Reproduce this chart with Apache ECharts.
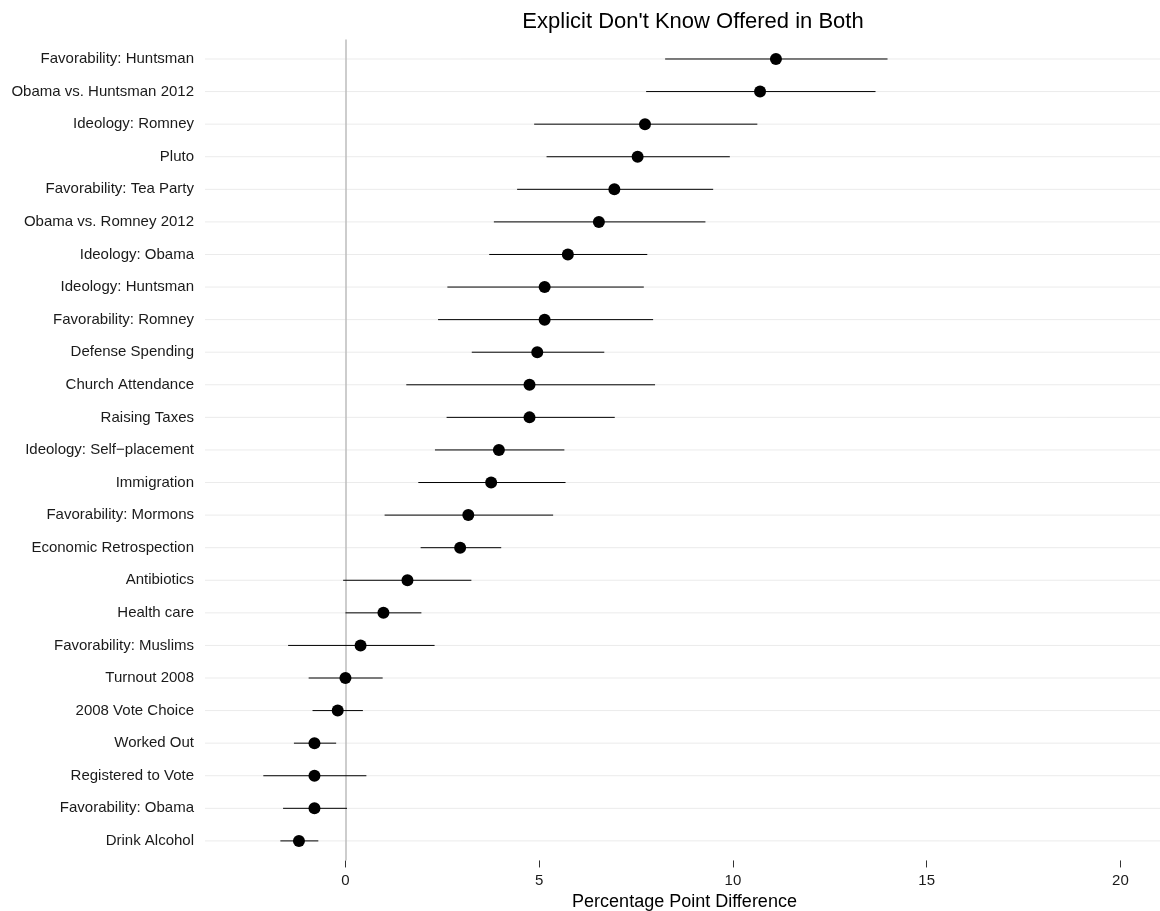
<!DOCTYPE html>
<html>
<head>
<meta charset="utf-8">
<script src="https://cdn.jsdelivr.net/npm/echarts@6/dist/echarts.min.js"></script>
<style>html,body{margin:0;padding:0;background:#fff}#c{width:1160px;height:911px}</style>
</head>
<body>
<div id="c"></div>
<script>
const categories = [
  "Favorability: Huntsman", "Obama vs. Huntsman 2012", "Ideology: Romney", "Pluto",
  "Favorability: Tea Party", "Obama vs. Romney 2012", "Ideology: Obama", "Ideology: Huntsman",
  "Favorability: Romney", "Defense Spending", "Church Attendance", "Raising Taxes",
  "Ideology: Self\u2212placement", "Immigration", "Favorability: Mormons", "Economic Retrospection",
  "Antibiotics", "Health care", "Favorability: Muslims", "Turnout 2008",
  "2008 Vote Choice", "Worked Out", "Registered to Vote", "Favorability: Obama", "Drink Alcohol"
];
const estimate = [11.11, 10.70, 7.73, 7.54, 6.94, 6.54, 5.74, 5.14, 5.14, 4.95, 4.75, 4.75, 3.96, 3.76, 3.17, 2.96, 1.60, 0.98, 0.39, 0.00, -0.20, -0.80, -0.80, -0.80, -1.20];
const lower = [8.25, 7.76, 4.87, 5.19, 4.43, 3.83, 3.71, 2.63, 2.39, 3.26, 1.57, 2.61, 2.31, 1.88, 1.01, 1.94, -0.06, 0.00, -1.48, -0.95, -0.85, -1.33, -2.12, -1.61, -1.68];
const upper = [13.99, 13.68, 10.63, 9.92, 9.49, 9.29, 7.79, 7.70, 7.94, 6.68, 7.99, 6.95, 5.65, 5.68, 5.36, 4.02, 3.25, 1.96, 2.30, 0.96, 0.45, -0.24, 0.54, 0.04, -0.70];
const xTicks = [0, 5, 10, 15, 20];

const xMin = -3.625, xMax = 21.125;
const rowIdx = categories.map((_, i) => i);

const chart = echarts.init(document.getElementById('c'), null, {renderer: 'canvas'});
const font = '"Liberation Sans", Arial, Helvetica, sans-serif';
chart.setOption({
  animation: false,
  backgroundColor: '#fff',
  title: {
    text: "Explicit Don't Know Offered in Both",
    left: 688, top: 6, textAlign: 'center',
    textStyle: {fontFamily: font, fontSize: 22, fontWeight: 'normal', color: '#000'}
  },
  grid: {left: 205, top: 39.45, width: 959, height: 821, containLabel: false, outerBoundsMode: 'none'},
  xAxis: {
    type: 'value', min: xMin, max: xMax,
    axisLine: {show: false, onZero: false},
    splitLine: {show: false},
    axisTick: {show: true, length: 7, lineStyle: {color: '#333', width: 1}, customValues: xTicks},
    axisLabel: {customValues: xTicks, margin: 13, fontFamily: font, fontSize: 15, color: '#1a1a1a'},
    name: 'Percentage Point Difference', nameLocation: 'middle', nameGap: 27,
    nameTextStyle: {fontFamily: font, fontSize: 18, color: '#000'}
  },
  yAxis: {
    type: 'value', inverse: true, min: -0.6, max: 24.6,
    axisLine: {show: false, onZero: false}, axisTick: {show: false}, splitLine: {show: false},
    axisLabel: {
      customValues: rowIdx, margin: 11, fontFamily: font, fontSize: 15, color: '#1a1a1a',
      formatter: v => categories[Math.round(v)] || ''
    }
  },
  series: [
    {
      type: 'custom', z: 1, silent: true,
      data: rowIdx.map(i => [i]),
      renderItem: (params, api) => {
        const i = api.value(0);
        const a = api.coord([xMin, i]), b = api.coord([xMax, i]);
        return {type: 'line', shape: {x1: a[0], y1: a[1], x2: b[0], y2: b[1]},
                style: {stroke: '#ebebeb', lineWidth: 1}};
      },
      encode: {x: -1, y: 0}
    },
    {
      type: 'custom', z: 3, silent: true,
      data: rowIdx.map(i => [lower[i], upper[i], i]),
      renderItem: (params, api) => {
        const a = api.coord([api.value(0), api.value(2)]);
        const b = api.coord([api.value(1), api.value(2)]);
        return {type: 'line', shape: {x1: a[0], y1: a[1], x2: b[0], y2: b[1]},
                style: {stroke: '#000', lineWidth: 1}};
      },
      encode: {x: [0, 1], y: 2},
      markLine: {
        silent: true, symbol: ['none', 'none'], label: {show: false},
        lineStyle: {color: '#bdbdbd', width: 1.5, type: 'solid'},
        data: [{xAxis: 0}], z: 2
      }
    },
    {
      type: 'scatter', z: 4, symbol: 'circle', symbolSize: 12,
      itemStyle: {color: '#000', opacity: 1},
      data: rowIdx.map(i => [estimate[i], i])
    }
  ]
});
</script>
</body>
</html>
